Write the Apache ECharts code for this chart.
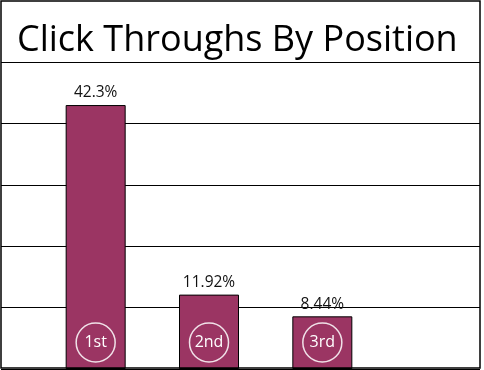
<!DOCTYPE html>
<html>
<head>
<meta charset="utf-8">
<script src="https://cdn.jsdelivr.net/npm/echarts@6/dist/echarts.min.js"></script>
<style>html,body{margin:0;padding:0;background:#fff}#c{width:484px;height:370px}</style>
</head>
<body>
<div id="c"></div>
<script>
var titleText = 'Click Throughs By Position';
var categories = ['1st', '2nd', '3rd'];
var clickThroughs = [42.3, 11.92, 8.44];
var yMax = 50;
var yInterval = 10;

var chart = echarts.init(document.getElementById('c'), null, {renderer: 'canvas'});
var font = 'Open Sans';
chart.setOption({
  animation: false,
  backgroundColor: '#fff',
  title: {
    text: titleText,
    left: 17,
    top: 21,
    padding: 0,
    textStyle: {fontFamily: font, fontSize: 36, fontWeight: 'normal', color: '#000', lineHeight: 40}
  },
  grid: [
    {left: 1, right: 4, top: 62, bottom: 1},
    {left: 39, width: 340, top: 57, bottom: 1}
  ],
  xAxis: [
    {gridIndex: 0, type: 'value', min: 0, max: 1, show: false},
    {gridIndex: 1, type: 'category', data: categories, show: false}
  ],
  yAxis: [
    {gridIndex: 0, type: 'value', min: 0, max: yMax, interval: yInterval,
     axisLabel: {show: false}, axisTick: {show: false}, axisLine: {show: false},
     splitLine: {show: true, lineStyle: {color: '#000', width: 1}}},
    {gridIndex: 1, type: 'value', min: 0, max: yMax, show: false, splitLine: {show: false}}
  ],
  graphic: [{
    type: 'rect', z: 100, silent: true,
    shape: {x: 1, y: 1, width: 479, height: 367},
    style: {fill: null, stroke: '#000', lineWidth: 1.5}
  }],
  series: [
    {
      type: 'bar', xAxisIndex: 1, yAxisIndex: 1,
      data: clickThroughs, barWidth: 60,
      itemStyle: {color: '#9b3563', borderColor: '#000', borderWidth: 1},
      label: {show: true, position: 'top', distance: 4,
        formatter: function (p) { return p.value + '%'; },
        fontFamily: font, fontSize: 15.5, color: '#111'}
    },
    {
      type: 'bar', xAxisIndex: 1, yAxisIndex: 1,
      data: clickThroughs, barWidth: 60, barGap: '-100%', silent: true,
      itemStyle: {color: 'rgba(0,0,0,0)'},
      label: {show: true, position: 'insideBottom', distance: 7,
        formatter: function (p) { return '{c|' + p.name + '}'; },
        rich: {
          c: {fontFamily: font, fontSize: 16, color: '#fff',
            width: 39, height: 39, lineHeight: 39, align: 'center',
            borderRadius: 20, borderColor: 'rgba(255,255,255,0.85)', borderWidth: 1.5}
        }}
    }
  ]
});
</script>
</body>
</html>
